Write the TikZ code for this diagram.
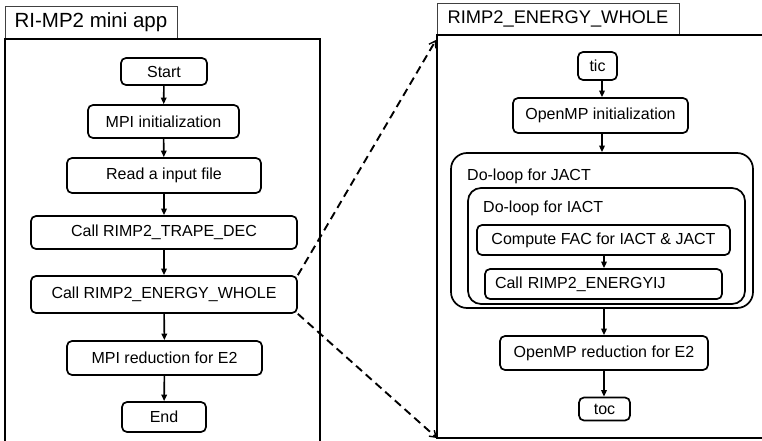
\documentclass[tikz,border=0pt]{standalone}
\usepackage{fontspec}
\setmainfont{Liberation Sans}
\usetikzlibrary{arrows.meta}
\begin{document}
\begin{tikzpicture}[x=1pt,y=-1pt,
  box/.style={draw, rounded corners=5pt, line width=1.7pt, inner sep=0pt,
    font=\fontsize{16}{19}\selectfont},
  loopstyle/.style={draw, line width=1.7pt, inner sep=0pt},
  lbl/.style={anchor=west, inner sep=0pt, font=\fontsize{16}{19}\selectfont},
  titlebox/.style={draw=black!75, line width=0.9pt, inner sep=0pt},
  panel/.style={line width=1.5pt},
  flow/.style={line width=1.6pt, -{Triangle[length=6.5pt,width=5.5pt]}},
  link/.style={line width=1.9pt, dash pattern=on 8pt off 5pt,
    -{Straight Barb[length=6pt,width=8pt,line width=1.4pt]}}]
\useasboundingbox (0,0) rectangle (762,441);
% left panel
\node[titlebox, minimum width=172, minimum height=32, font=\fontsize{20.5}{24}\selectfont] (ltitle) at (91,22) {RI-MP2 mini app};
\draw[panel] (5,445) -- (5,39) -- (320,39) -- (320,445);
\node[box, minimum width=86, minimum height=27] (start) at (164,71.5) {Start};
\node[box, minimum width=151, minimum height=33] (mpi) at (163.5,121.5) {MPI initialization};
\node[box, minimum width=194, minimum height=35] (read) at (164,175.5) {Read a input file};
\node[box, minimum width=266, minimum height=33] (trape) at (164,232.5) {Call RIMP2\_TRAPE\_DEC};
\node[box, minimum width=266, minimum height=37] (whole) at (164,294.5) {Call RIMP2\_ENERGY\_WHOLE};
\node[box, minimum width=195, minimum height=34] (red) at (164.5,358) {MPI reduction for E2};
\node[box, minimum width=84, minimum height=30] (end) at (164,417) {End};
\draw[flow] (start) -- (mpi);
\draw[flow] (mpi) -- (read);
\draw[flow] (read) -- (trape);
\draw[flow] (trape) -- (whole);
\draw[flow] (whole) -- (red);
\draw[flow] (red) -- (end);
% right panel
\node[titlebox, minimum width=242, minimum height=32, font=\fontsize{18.3}{22}\selectfont] (rtitle) at (558,19) {RIMP2\_ENERGY\_WHOLE};
\draw[panel] (765,35) -- (437,35) -- (437,438) -- (765,438);
\coordinate (rtop) at (436,40);
\coordinate (rbot) at (437,438);
\node[box, minimum width=39, minimum height=28] (tic) at (597.5,66) {tic};
\node[box, minimum width=175, minimum height=35] (omp) at (600.5,115.5) {OpenMP initialization};
\node[loopstyle, rounded corners=16pt, minimum width=302, minimum height=155] (jloop) at (602,230.5) {};
\node[lbl] (jlabel) at (467,176) {Do-loop for JACT};
\node[loopstyle, rounded corners=13pt, minimum width=277, minimum height=116] (iloop) at (606.5,246) {};
\node[lbl] (ilabel) at (483,208) {Do-loop for IACT};
\node[box, minimum width=253, minimum height=30] (fac) at (603.5,240) {Compute FAC for IACT \& JACT};
\node[box, text width=217, inner xsep=10pt, minimum height=30, align=left] (eij) at (603.5,284) {Call RIMP2\_ENERGYIJ};
\node[box, minimum width=208, minimum height=34] (ored) at (604,353) {OpenMP reduction for E2};
\node[box, minimum width=51, minimum height=23] (toc) at (604.5,409) {toc};
\draw[flow] (tic.south -| 602,0) -- (omp.north -| 602,0);
\draw[flow] (omp.south -| 602,0) -- (jloop.north -| 602,0);
\draw[flow] (fac.south -| 604,0) -- (eij.north -| 604,0);
\draw[flow] (jloop.south -| 604,0) -- (ored.north -| 604,0);
\draw[flow] (ored.south -| 604,0) -- (toc.north -| 604,0);
% links
\draw[link] (whole.north east) -- (rtop);
\draw[link] (whole.south east) -- (rbot);
\end{tikzpicture}
\end{document}
